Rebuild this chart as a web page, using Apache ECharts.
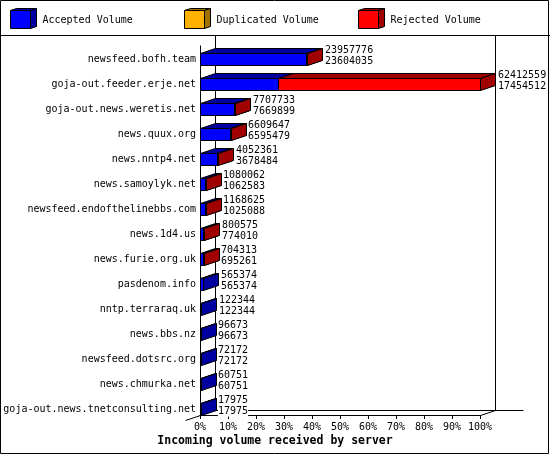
<!DOCTYPE html>
<html>
<head>
<meta charset="utf-8">
<script src="https://cdn.jsdelivr.net/npm/echarts@6/dist/echarts.min.js"></script>
<style>
  html, body { margin: 0; padding: 0; background: #fff; }
  #chart { width: 550px; height: 455px; }
</style>
</head>
<body>
<div id="chart"></div>
<script>
const servers = [
  'newsfeed.bofh.team',
  'goja-out.feeder.erje.net',
  'goja-out.news.weretis.net',
  'news.quux.org',
  'news.nntp4.net',
  'news.samoylyk.net',
  'newsfeed.endofthelinebbs.com',
  'news.1d4.us',
  'news.furie.org.uk',
  'pasdenom.info',
  'nntp.terraraq.uk',
  'news.bbs.nz',
  'newsfeed.dotsrc.org',
  'news.chmurka.net',
  'goja-out.news.tnetconsulting.net'
]
const totalVolume = [23957776, 62412559, 7707733, 6609647, 4052361, 1080062, 1168625, 800575, 704313, 565374, 122344, 96673, 72172, 60751, 17975]
const acceptedVolume = [23604035, 17454512, 7669899, 6595479, 3678484, 1062583, 1025088, 774010, 695261, 565374, 122344, 96673, 72172, 60751, 17975]
const duplicatedVolume = [0, 0, 0, 0, 0, 0, 0, 0, 0, 0, 0, 0, 0, 0, 0]
const seriesNames = ['Accepted Volume', 'Duplicated Volume', 'Rejected Volume']

const FONT = '10px "DejaVu Sans Mono", monospace'
const faceColors = ['#0000ff', '#ffb000', '#ff0000']
const shadeColors = ['#0000a0', '#a07000', '#a00000']
const DX = 15
const DY = 5
const HALF = 6

const maxTotal = Math.max(...totalVolume)
const pct = (v) => (v / maxTotal) * 100
const px = (v) => Math.round(v) + 0.5

const barData = servers.map((name, i) => [
  pct(acceptedVolume[i]),
  pct(acceptedVolume[i] + duplicatedVolume[i]),
  pct(totalVolume[i]),
  i,
  totalVolume[i],
  acceptedVolume[i],
])

const line = (x1, y1, x2, y2) => ({
  type: 'line',
  shape: { x1, y1, x2, y2 },
  style: { stroke: '#000', lineWidth: 1 },
})

const renderFrame = (params, api) => {
  const x0 = px(api.coord([0, 0])[0])
  const x1 = px(api.coord([100, 0])[0])
  const yb = px(api.coord([0, servers.length - 1])[1] + HALF)
  const top = 35.5
  return {
    type: 'group',
    children: [
      line(x0 + DX, top, x0 + DX, yb - DY),
      line(x1 + DX, top, x1 + DX, yb - DY),
      line(x0 + DX, yb - DY, x1 + DX + 28, yb - DY),
      line(x0 - DX, yb + DY, x0, yb),
      line(x1, yb, x1 + DX, yb - DY),
      line(x0, top + 10, x0, yb),
    ],
  }
}

const renderBar = (params, api) => {
  const i = api.value(3)
  const base = api.coord([0, i])
  const c = base[1]
  const xs = [base[0], api.coord([api.value(0), i])[0], api.coord([api.value(1), i])[0], api.coord([api.value(2), i])[0]]
  const yt = px(c - HALF)
  const yb = px(c + HALF)
  const children = []
  for (let k = 0; k < 3; k++) {
    if (xs[k + 1] - xs[k] <= 0) continue
    const a = px(xs[k])
    const b = Math.max(px(xs[k + 1]), a + 1)
    const stroke = { stroke: '#000', lineWidth: 1 }
    children.push({
      type: 'polygon',
      shape: { points: [[a, yt], [b, yt], [b + DX, yt - DY], [a + DX, yt - DY]] },
      style: { fill: shadeColors[k], ...stroke },
    })
    children.push({
      type: 'polygon',
      shape: { points: [[b, yt], [b + DX, yt - DY], [b + DX, yb - DY], [b, yb]] },
      style: { fill: shadeColors[k], ...stroke },
    })
    children.push({
      type: 'rect',
      shape: { x: a, y: yt, width: b - a, height: yb - yt },
      style: { fill: faceColors[k], ...stroke },
    })
  }
  children.push({
    type: 'text',
    style: {
      text: api.value(4) + '\n' + api.value(5),
      x: Math.round(xs[3]) + DX + 3,
      y: c - 3.5,
      font: FONT,
      fill: '#000',
      align: 'left',
      verticalAlign: 'middle',
      lineHeight: 11,
      backgroundColor: '#fff',
    },
  })
  return { type: 'group', children }
}

const legendGraphics = []
const legendX = [10, 184, 358]
seriesNames.forEach((name, k) => {
  const x = legendX[k] + 0.5
  legendGraphics.push(
    { type: 'polygon', shape: { points: [[x, 10.5], [x + 20, 10.5], [x + 26, 8.5], [x + 6, 8.5]] }, style: { fill: shadeColors[k], stroke: '#000' } },
    { type: 'polygon', shape: { points: [[x + 20, 10.5], [x + 26, 8.5], [x + 26, 26.5], [x + 20, 28.5]] }, style: { fill: shadeColors[k], stroke: '#000' } },
    { type: 'rect', shape: { x: x, y: 10.5, width: 20, height: 18 }, style: { fill: faceColors[k], stroke: '#000' } },
    { type: 'text', style: { text: name, x: x + 32, y: 20, font: FONT, fill: '#000', verticalAlign: 'middle' } }
  )
})

const chart = echarts.init(document.getElementById('chart'))
chart.setOption({
  animation: false,
  backgroundColor: '#fff',
  title: {
    text: 'Incoming volume received by server',
    left: 'center',
    top: 435,
    padding: 0,
    textStyle: { fontFamily: '"DejaVu Sans Mono", monospace', fontSize: 11.5, fontWeight: 'bold', color: '#000' },
  },
  graphic: [
    { type: 'rect', shape: { x: 0.5, y: 0.5, width: 548, height: 453 }, style: { fill: 'none', stroke: '#000' }, silent: true },
    { type: 'line', shape: { x1: 0, y1: 35.5, x2: 550, y2: 35.5 }, style: { stroke: '#000' }, silent: true },
    ...legendGraphics,
  ],
  grid: { left: 200, right: 70, top: 46.5, bottom: 33.5 },
  xAxis: {
    type: 'value',
    min: 0,
    max: 100,
    interval: 10,
    offset: -6.5,
    axisLine: { show: true, lineStyle: { color: '#000' } },
    axisTick: { show: true, length: 4, lineStyle: { color: '#000' } },
    axisLabel: { formatter: '{value}%', color: '#000', fontFamily: '"DejaVu Sans Mono", monospace', fontSize: 10, margin: 7 },
    splitLine: { show: false },
  },
  yAxis: {
    type: 'category',
    data: servers,
    inverse: true,
    axisLine: { show: false },
    axisTick: { show: false },
    axisLabel: { color: '#000', fontFamily: '"DejaVu Sans Mono", monospace', fontSize: 10, margin: 4 },
    splitLine: { show: false },
  },
  series: [
    {
      type: 'custom',
      name: 'frame',
      silent: true,
      renderItem: renderFrame,
      data: [[0, 0]],
      encode: { x: 0, y: 1 },
      clip: false,
    },
    {
      type: 'custom',
      name: 'volume',
      silent: true,
      renderItem: renderBar,
      data: barData,
      encode: { x: [0, 1, 2], y: 3 },
      clip: false,
    },
  ],
})
</script>
</body>
</html>
